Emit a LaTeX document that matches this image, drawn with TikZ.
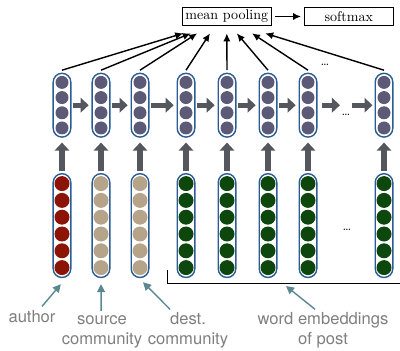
\documentclass[tikz,border=0pt]{standalone}
\usepackage{fontspec}
\setsansfont{TeX Gyre Heros}
\usetikzlibrary{arrows.meta,positioning}
\definecolor{capblue}{HTML}{2B5D94}
\definecolor{hidcol}{HTML}{5C5A76}
\definecolor{authcol}{HTML}{8C1407}
\definecolor{commcol}{HTML}{B5A48A}
\definecolor{wordcol}{HTML}{0D470D}
\definecolor{flowgray}{HTML}{54585E}
\definecolor{labteal}{HTML}{5A8790}
\definecolor{labgray}{HTML}{7F7F7F}

\begin{document}
\begin{tikzpicture}[>={Latex[length=0.2cm,width=0.18cm]},
     capsule/.style={draw=capblue, line width=1pt, rounded corners=0.22cm,
       minimum width=0.44cm, inner sep=0pt},
     hid/.style={capsule, minimum height=1.595cm},
     emb/.style={capsule, minimum height=2.595cm},
     box/.style={draw, line width=0.9pt, minimum width=2.22cm, minimum height=0.45cm, inner sep=0pt},
     flow/.style={flowgray, line width=0.13cm, -{Triangle[length=0.2cm,width=0.36cm]}},
     pool/.style={->, line width=1pt},
     lab/.style={font=\sffamily\fontsize{11.8}{14.2}\selectfont, text=labgray,
       align=center, inner sep=0pt, anchor=base},
     pointer/.style={labteal, line width=1pt, -{Triangle[length=0.2cm,width=0.2cm]}}]
    \useasboundingbox (0,0) rectangle (10,8.75);

    % output side
    \node[box] (pool) at (5.67, 8.3375) {mean pooling};
    \node[box, right=0.8cm of pool] (soft) {softmax};
    \draw[pool, shorten <=2pt, shorten >=2pt] (pool) -- (soft);

    % recurrent layer
    \foreach \i/\x in {1/1.55, 2/2.525, 3/3.5, 4/4.65, 5/5.675, 6/6.7, 7/7.7, 8/9.6} {
      \node[hid] (h\i) at (\x, 6.12) {};
      \foreach \k in {-1.5,-0.5,0.5,1.5}
        \fill[hidcol] ([yshift=\k*0.38cm]h\i.center) circle (0.1625cm);
    }

    % input vectors
    \foreach \i/\x/\c in {1/1.55/authcol, 2/2.525/commcol, 3/3.5/commcol, 4/4.65/wordcol,
        5/5.675/wordcol, 6/6.7/wordcol, 7/7.7/wordcol, 8/9.6/wordcol} {
      \node[emb] (e\i) at (\x, 3.11) {};
      \foreach \k in {-2.5,-1.5,-0.5,0.5,1.5,2.5}
        \fill[\c] ([yshift=\k*0.42cm]e\i.center) circle (0.1875cm);
      \draw[flow] ([yshift=0.05cm]e\i.north) -- ([yshift=-0.12cm]h\i.south);
    }

    \node[font=\small, anchor=base] (topdots) at (8.125, 7.1) {\dots};
    \node[font=\small, anchor=base, inner sep=1pt] (middots) at (8.65, 5.85) {\dots};
    \node[font=\small, anchor=base] (lowdots) at (8.675, 2.975) {\dots};

    % hidden state chain
    \foreach \i/\j in {1/2, 2/3, 3/4, 4/5, 5/6, 6/7}
      \draw[flow] ([xshift=0.03cm]h\i.east) -- ([xshift=-0.07cm]h\j.west);
    \draw[flow] ([xshift=0.1cm]h7.east) -- (h7.east -| middots.west);
    \draw[flow] (h8.west -| middots.east) -- ([xshift=-0.05cm]h8.west);

    % pooling
    \foreach \i/\d in {1/-1.09, 2/-0.9, 3/-0.74, 4/-0.42, 5/0, 6/0.25, 7/0.63, 8/0.96}
      \draw[pool] ([yshift=0.06cm]h\i.north) -- ([xshift=\d cm, yshift=-0.18cm]pool.south);

    % labels
    \draw[line width=1pt] (4.18,2.0) -- (4.18,1.667) -- (10,1.667);
    \coordinate (brk) at (7.15,1.6);
    \node[lab] (author) at (0.8, 0.7) {author};
    \node[lab] (srclab) at (2.55, 0.15) {source\\community};
    \node[lab] (dstlab) at (4.7, 0.15) {dest.\\community};
    \node[lab] (wordlab) at (8.075, 0.15) {word embeddings\\of post};
    \draw[pointer] ([xshift=0.25cm, yshift=0.08cm]author.north) -- ([xshift=-0.03cm, yshift=-0.15cm]e1.south);
    \draw[pointer] ([xshift=-0.02cm, yshift=0.1cm]srclab.north) -- ([yshift=-0.15cm]e2.south);
    \draw[pointer] ([xshift=-0.45cm, yshift=0.06cm]dstlab.north) -- ([xshift=0.075cm, yshift=-0.1cm]e3.south);
    \draw[pointer] ([xshift=-0.2cm, yshift=0.06cm]wordlab.north) -- (brk);
\end{tikzpicture}
\end{document}
